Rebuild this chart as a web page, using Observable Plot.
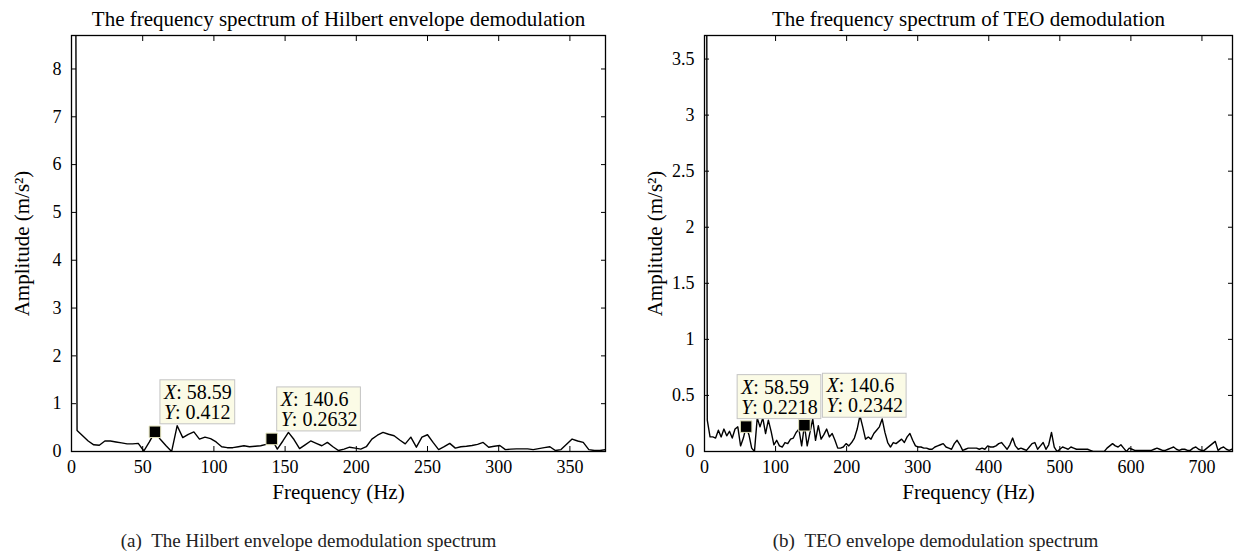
<!DOCTYPE html>
<html><head><meta charset="utf-8">
<script src="https://cdn.jsdelivr.net/npm/d3@7"></script>
<script src="https://cdn.jsdelivr.net/npm/@observablehq/plot@0.6"></script>
<style>
body{margin:0;background:#fff;}
#wrap{position:relative;width:1235px;height:560px;overflow:hidden;background:#fff;}
#wrap svg{position:absolute;top:0;}
</style></head><body><div id="wrap"></div>
<script>
// ---- data ----
const binWidthHz = 3.90625;
const hilbertAmp = [
 40, 0.44, 0.33, 0.22, 0.14, 0.13, 0.22, 0.22, 0.2, 0.18,
 0.16, 0.16, 0.17, 0.01, 0.2, 0.412, 0.25, 0.12, 0.0, 0.54,
 0.29, 0.36, 0.41, 0.26, 0.3, 0.27, 0.2, 0.1, 0.08, 0.08,
 0.1, 0.12, 0.1, 0.11, 0.12, 0.15, 0.2632, 0.05, 0.22, 0.4,
 0.25, 0.06, 0.14, 0.22, 0.17, 0.12, 0.19, 0.1, 0.02, 0.05,
 0.09, 0.07, 0.05, 0.1, 0.26, 0.34, 0.4, 0.36, 0.33, 0.24,
 0.16, 0.3, 0.09, 0.3, 0.35, 0.19, 0.04, 0.1, 0.17, 0.07,
 0.1, 0.11, 0.125, 0.15, 0.19, 0.09, 0.11, 0.125, 0.04, 0.05,
 0.055, 0.055, 0.055, 0.04, 0.06, 0.08, 0.1, 0.02, 0.04, 0.15,
 0.26, 0.22, 0.19, 0.04, 0.02, 0.02, 0.04];
const teoAmp = [
 20, 0.28, 0.13, 0.13, 0.12, 0.19, 0.13, 0.2, 0.14, 0.18,
 0.12, 0.2, 0.22, 0.05, 0.12, 0.2218, 0.15, 0.03, 0.0, 0.3,
 0.22, 0.3, 0.16, 0.28, 0.18, 0.06, 0.1, 0.05, 0.04, 0.08,
 0.07, 0.11, 0.12, 0.17, 0.2, 0.05, 0.2342, 0.05, 0.17, 0.29,
 0.1, 0.23, 0.11, 0.15, 0.2, 0.13, 0.16, 0.1, 0.03, 0.03,
 0.04, 0.07, 0.05, 0.08, 0.12, 0.2, 0.32, 0.22, 0.11, 0.13,
 0.11, 0.16, 0.19, 0.22, 0.29, 0.17, 0.08, 0.04, 0.08, 0.07,
 0.09, 0.11, 0.08, 0.13, 0.16, 0.1, 0.05, 0.04, 0.04, 0.03,
 0.03, 0.02, 0.02, 0.04, 0.05, 0.06, 0.07, 0.04, 0.03, 0.02,
 0.07, 0.1, 0.06, 0.01, 0.02, 0.03, 0.03, 0.03, 0.03, 0.02,
 0.03, 0.02, 0.05, 0.04, 0.04, 0.05, 0.07, 0.08, 0.05, 0.02,
 0.06, 0.12, 0.05, 0.02, 0.03, 0.02, 0.01, 0.04, 0.07, 0.08,
 0.02, 0.05, 0.08, 0.02, 0.06, 0.17, 0.04, 0.0, 0.02, 0.04,
 0.03, 0.02, 0.04, 0.03, 0.02, 0.02, 0.02, 0.02, 0.02, 0.01,
 0, 0, 0, 0, 0, 0.03, 0.05, 0.07, 0.05, 0.04,
 0.06, 0.03, 0, 0.03, 0.02, 0.01, 0.01, 0.01, 0.01, 0.01,
 0.01, 0.01, 0.02, 0.03, 0.02, 0.01, 0.01, 0.02, 0.03, 0.04,
 0.02, 0.01, 0.02, 0.02, 0.01, 0.01, 0.03, 0.04, 0.02, 0.01,
 0.01, 0.03, 0.05, 0.07, 0.09, 0.01, 0.03, 0.04, 0.02, 0.01, 0.02];
const hilbertTipX = ["58.59", "140.6"];
const hilbertTipY = ["0.412", "0.2632"];
const teoTipX = ["58.59", "140.6"];
const teoTipY = ["0.2218", "0.2342"];
const hilbertXTicks = [0, 50, 100, 150, 200, 250, 300, 350];
const hilbertYTicks = [0, 1, 2, 3, 4, 5, 6, 7, 8];
const teoXTicks = [0, 100, 200, 300, 400, 500, 600, 700];
const teoYTicks = [0, 0.5, 1, 1.5, 2, 2.5, 3, 3.5];
const titles = ["The frequency spectrum of Hilbert envelope demodulation", "The frequency spectrum of TEO demodulation"];
const captions = ["(a)\u2002The Hilbert envelope demodulation spectrum", "(b)\u2002TEO envelope demodulation spectrum"];
const xLabel = "Frequency (Hz)";
const yLabel = "Amplitude (m/s\u00B2)";

// ---- layout ----
const FONT = "'Liberation Serif', 'DejaVu Serif', serif";
const toRows = arr => arr.map((a, k) => ({f: k * binWidthHz, a}));
const toTips = (xs, ys) => xs.map((x, i) => ({f: +x, a: +ys[i], label: `X: ${x}\nY: ${ys[i]}`}));

function panel(cfg) {
  const tipMarks = cfg.tips.map((t, i) =>
    Plot.text([t], {x: "f", y: "a", text: "label", textAnchor: "start", lineAnchor: "bottom",
      dx: cfg.tipOffsets[i][0], dy: cfg.tipOffsets[i][1], fontSize: 20, fill: "black"})
  );
  return Plot.plot({
    width: cfg.width, height: 560,
    marginLeft: cfg.marginLeft, marginRight: cfg.marginRight, marginTop: 35, marginBottom: 109,
    style: {fontFamily: FONT, fontSize: "18px", color: "black", background: "transparent", overflow: "visible"},
    x: {domain: cfg.xDomain},
    y: {domain: cfg.yDomain},
    marks: [
      Plot.line(cfg.data, {x: "f", y: "a", stroke: "black", strokeWidth: 1.4, clip: true}),
      Plot.axisX({anchor: "bottom", ticks: cfg.xTicks, tickSize: 5, dy: -5, fill: "none", label: null}),
      Plot.axisX({anchor: "top", ticks: cfg.xTicks, tickSize: 5, dy: 5, fill: "none", label: null}),
      Plot.axisY({anchor: "left", ticks: cfg.yTicks, tickSize: 5, dx: 5, fill: "none", label: null}),
      Plot.axisY({anchor: "right", ticks: cfg.yTicks, tickSize: 5, dx: -5, fill: "none", label: null}),
      Plot.axisX({anchor: "bottom", ticks: cfg.xTicks, tickSize: 0, tickPadding: 9, stroke: "none", label: null, fontSize: 18, tickFormat: d => String(d)}),
      Plot.axisY({anchor: "left", ticks: cfg.yTicks, tickSize: 0, tickPadding: 10, stroke: "none", label: null, fontSize: 18, tickFormat: d => String(d)}),
      Plot.frame({stroke: "black", strokeWidth: 1.3}),
      Plot.text([cfg.title], {text: d => d, frameAnchor: "top", dy: -16, lineAnchor: "middle", fontSize: 21}),
      Plot.text([xLabel], {text: d => d, frameAnchor: "bottom", dy: 41, lineAnchor: "middle", fontSize: 21}),
      Plot.text([yLabel], {text: d => d, frameAnchor: "left", dx: -49, rotate: -90, textAnchor: "middle", lineAnchor: "middle", fontSize: 21}),
      Plot.text([cfg.caption], {text: d => d, frameAnchor: "bottom", dx: cfg.captionDx, dy: 89, lineAnchor: "middle", fontSize: 19, fill: "#222"}),
      Plot.dot(cfg.tips, {x: "f", y: "a", symbol: "square", r: 6.5, fill: "black", stroke: "#e4e4bc", strokeWidth: 1}),
      ...tipMarks
    ]
  });
}

function decorateTips(svg) {
  const ns = "http://www.w3.org/2000/svg";
  const texts = Array.from(svg.querySelectorAll("text")).filter(t => /^X: /.test(t.textContent));
  texts.forEach(t => {
    Array.from(t.childNodes).forEach(ts => {
      if (ts.nodeName.toLowerCase() !== "tspan") return;
      const s = ts.textContent;
      while (ts.firstChild) ts.removeChild(ts.firstChild);
      const it = document.createElementNS(ns, "tspan");
      it.setAttribute("font-style", "italic");
      it.textContent = s.slice(0, 1);
      ts.appendChild(it);
      ts.appendChild(document.createTextNode(s.slice(1)));
    });
    const b = t.getBBox();
    const r = document.createElementNS(ns, "rect");
    r.setAttribute("x", b.x - 3);
    r.setAttribute("y", b.y - 1);
    r.setAttribute("width", b.width + 6);
    r.setAttribute("height", b.height + 2);
    r.setAttribute("fill", "#fbfbe6");
    r.setAttribute("stroke", "#c4c4c4");
    r.setAttribute("stroke-width", "1");
    const tr = t.getAttribute("transform");
    if (tr) r.setAttribute("transform", tr);
    t.parentNode.insertBefore(r, t);
  });
}

const wrap = document.getElementById("wrap");
const left = panel({
  data: toRows(hilbertAmp), tips: toTips(hilbertTipX, hilbertTipY),
  tipOffsets: [[9, -13], [9, -13]],
  xDomain: [0, 375], yDomain: [0, 8.7], xTicks: hilbertXTicks, yTicks: hilbertYTicks,
  width: 617, marginLeft: 71, marginRight: 12, title: titles[0], caption: captions[0], captionDx: -30
});
left.style.left = "0px";
wrap.appendChild(left);
const right = panel({
  data: toRows(teoAmp), tips: toTips(teoTipX, teoTipY),
  tipOffsets: [[-5, -13], [22, -13]],
  xDomain: [0, 743], yDomain: [0, 3.71], xTicks: teoXTicks, yTicks: teoYTicks,
  width: 618, marginLeft: 87, marginRight: 3, title: titles[1], caption: captions[1], captionDx: -33
});
right.style.left = "617px";
wrap.appendChild(right);
decorateTips(left);
decorateTips(right);
</script></body></html>
